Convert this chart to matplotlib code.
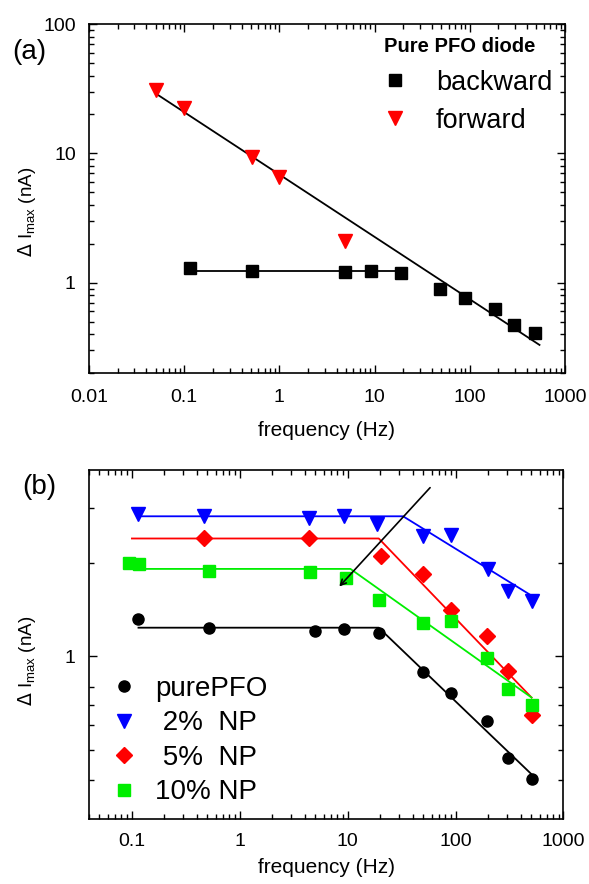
import numpy as np
import matplotlib.pyplot as plt
from matplotlib.ticker import LogLocator, NullFormatter, FixedLocator

plt.rcParams['font.family'] = ['Liberation Sans', 'DejaVu Sans']

# panel (a): pure PFO diode
back_f = [0.114, 0.52, 4.85, 9.15, 18.9, 48.6, 88.5, 186, 294, 483]
back_i = [1.306, 1.23, 1.21, 1.23, 1.18, 0.888, 0.766, 0.622, 0.471, 0.406]
fwd_f = [0.05, 0.1, 0.52, 0.98, 4.93]
fwd_i = [30.9, 22.3, 9.42, 6.52, 2.11]
# fit lines (a)
flat_a_f = [0.114, 18.9]
flat_a_i = [1.23, 1.23]
slope_a_f = [0.05, 540]
slope_a_i = [29.1, 0.33]

# panel (b): NP concentrations
pure_f = [0.115, 0.52, 5.0, 9.3, 19.4, 50.2, 91, 195, 307, 506]
pure_i = [1.32, 1.238, 1.21, 1.228, 1.187, 0.888, 0.765, 0.618, 0.471, 0.402]
np2_f = [0.115, 0.466, 4.4, 9.3, 18.6, 50, 91, 201, 303, 506]
np2_i = [2.88, 2.83, 2.79, 2.83, 2.67, 2.45, 2.46, 1.92, 1.625, 1.51]
np5_f = [0.466, 4.4, 20.2, 50, 91, 195, 307, 506]
np5_i = [2.40, 2.40, 2.11, 1.845, 1.415, 1.166, 0.899, 0.647]
np10_f = [0.094, 0.117, 0.52, 4.5, 9.6, 19.4, 50, 91, 195, 307, 514]
np10_i = [2.0, 1.99, 1.887, 1.868, 1.786, 1.524, 1.281, 1.303, 0.985, 0.784, 0.698]
# fit lines (b)
pure_fit_f = [0.115, 19.4, 506]
pure_fit_i = [1.238, 1.238, 0.417]
np2_fit_f = [0.115, 32.6, 506]
np2_fit_i = [2.83, 2.83, 1.57]
np5_fit_f = [0.1, 19.4, 506]
np5_fit_i = [2.40, 2.40, 0.737]
np10_fit_f = [0.115, 10.6, 506]
np10_fit_i = [1.915, 1.915, 0.737]
arrow_start = (58, 3.5)
arrow_end = (8.35, 1.68)

xlabels_a = ['0.01', '0.1', '1', '10', '100', '1000']
xlabels_b = ['0.1', '1', '10', '100', '1000']

fig = plt.figure(figsize=(5.89, 8.84), dpi=100)
ax1 = fig.add_axes([0.1511, 0.578, 0.8081, 0.3948])
ax2 = fig.add_axes([0.1511, 0.0739, 0.8056, 0.3948])


def style_axis(ax, label_y, xpad, xlabelpad):
    ax.set_xscale('log')
    ax.set_yscale('log')
    for s in ax.spines.values():
        s.set_linewidth(1.2)
    ax.tick_params(which='both', direction='in', top=True, right=True,
                   labelsize=14, width=1)
    ax.tick_params(axis='x', which='both', pad=xpad)
    ax.tick_params(axis='y', which='both', pad=9.5)
    ax.tick_params(which='major', length=6)
    ax.tick_params(which='minor', length=3.5)
    ax.xaxis.set_minor_locator(LogLocator(base=10, subs=np.arange(2, 10)))
    ax.xaxis.set_minor_formatter(NullFormatter())
    ax.set_xlabel('frequency (Hz)', fontsize=15, labelpad=xlabelpad)
    ax.set_ylabel(r'$\Delta$ I$_{\mathregular{max}}$ (nA)', fontsize=13.5)
    ax.yaxis.set_label_coords(-0.107, label_y)


# ---- (a)
ax1.plot(slope_a_f, slope_a_i, 'k-', lw=1.3)
ax1.plot(flat_a_f, flat_a_i, 'k-', lw=1.3)
ax1.plot(back_f, back_i, 's', color='black', ms=8, ls='none', label='backward')
ax1.plot(fwd_f, fwd_i, 'v', color='red', ms=10, ls='none', label='forward')
style_axis(ax1, 0.461, 11.5, 11)
ax1.set_xlim(0.01, 1000)
ax1.set_ylim(0.2, 100)
ax1.set_xticks([0.01, 0.1, 1, 10, 100, 1000])
ax1.set_xticklabels(xlabels_a)
ax1.set_yticks([1, 10, 100])
ax1.set_yticklabels(['1', '10', '100'])
ax1.yaxis.set_minor_locator(LogLocator(base=10, subs=np.arange(2, 10)))
ax1.yaxis.set_minor_formatter(NullFormatter())
ax1.text(-0.162, 0.92, '(a)', transform=ax1.transAxes, fontsize=20, va='center')
ax1.text(0.62, 0.935, 'Pure PFO diode', transform=ax1.transAxes, fontsize=14.5,
         fontweight='bold', va='center')
ax1.legend(loc='upper left', bbox_to_anchor=(0.592, 0.9), frameon=False,
           fontsize=19.5, handlelength=1.0, handletextpad=1.0,
           labelspacing=0.45, borderaxespad=0)

# ---- (b)
ax2.plot(pure_fit_f, pure_fit_i, '-', color='black', lw=1.3)
ax2.plot(np2_fit_f, np2_fit_i, '-', color='blue', lw=1.3)
ax2.plot(np5_fit_f, np5_fit_i, '-', color='red', lw=1.3)
ax2.plot(np10_fit_f, np10_fit_i, '-', color='#00ee00', lw=1.3)
ax2.plot(pure_f, pure_i, 'o', color='black', ms=8, ls='none', label='purePFO')
ax2.plot(np2_f, np2_i, 'v', color='blue', ms=10, ls='none', label=' 2%  NP')
ax2.plot(np5_f, np5_i, 'D', color='red', ms=8, ls='none', label=' 5%  NP')
ax2.plot(np10_f, np10_i, 's', color='#00ee00', ms=8, ls='none', label='10% NP')
ax2.annotate('', xy=arrow_end, xytext=arrow_start,
             arrowprops=dict(arrowstyle='->', color='black', lw=1.2,
                             shrinkA=0, shrinkB=0, mutation_scale=10))
style_axis(ax2, 0.451, 10.5, 5.5)
ax2.set_xlim(0.04, 1000)
ax2.set_ylim(0.3, 4)
ax2.set_xticks([0.1, 1, 10, 100, 1000])
ax2.set_xticklabels(xlabels_b)
ax2.set_yticks([1])
ax2.set_yticklabels(['1'])
ax2.yaxis.set_minor_locator(FixedLocator([0.4, 0.5, 0.6, 0.7, 0.8, 2, 3]))
ax2.yaxis.set_minor_formatter(NullFormatter())
ax2.text(-0.14, 0.949, '(b)', transform=ax2.transAxes, fontsize=20, va='center')
ax2.legend(loc='lower left', bbox_to_anchor=(0.021, 0.006), frameon=False,
           fontsize=20, handlelength=1.0, handletextpad=0.62,
           labelspacing=0.31, borderaxespad=0)

fig.savefig('out.png', dpi=100)
